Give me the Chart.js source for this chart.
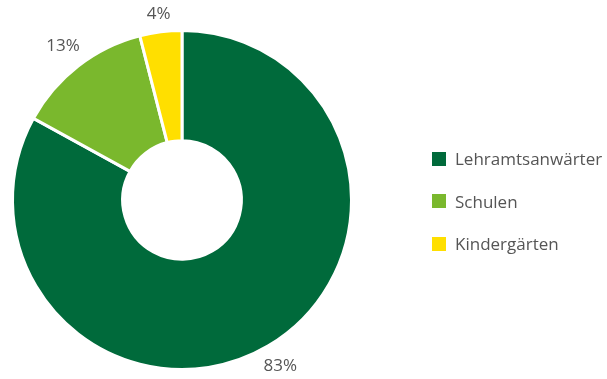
<!DOCTYPE html>
<html lang="de">
<head>
    <meta charset="UTF-8">
    <title>Verteilung</title>
    <script src="https://cdn.jsdelivr.net/npm/chart.js"></script>
    <style>
        body { margin: 0; padding: 0; background: #fff; font-family: "Open Sans", sans-serif; }
        .wrap { position: relative; width: 607px; height: 379px; }
        #legend { position: absolute; left: 432px; top: 148px; list-style: none; margin: 0; padding: 0; }
        #legend li { display: flex; align-items: center; height: 21px; margin-bottom: 21.5px; font-size: 17px; color: #555; }
        #legend span.box { width: 14px; height: 14px; margin-right: 9px; display: inline-block; }
    </style>
</head>
<body>
    <div class="wrap">
        <canvas id="chart" width="607" height="379"></canvas>
        <ul id="legend"></ul>
    </div>

    <script>
        const categories = ['Lehramtsanwärter', 'Schulen', 'Kindergärten'];
        const shares = [83, 13, 4];
        const colors = ['#006a3b', '#7ab82d', '#ffdf00'];

        // percentage labels outside each segment, label box kept clear of the ring
        const outsideLabels = {
            id: 'outsideLabels',
            afterDatasetsDraw(chart) {
                const ctx = chart.ctx;
                const meta = chart.getDatasetMeta(0);
                ctx.save();
                ctx.font = '17px "Open Sans", sans-serif';
                ctx.fillStyle = '#555';
                ctx.textAlign = 'center';
                ctx.textBaseline = 'middle';
                meta.data.forEach((arc, i) => {
                    const p = arc.getProps(['x', 'y', 'startAngle', 'endAngle', 'outerRadius'], true);
                    const text = shares[i] + '%';
                    const mid = (p.startAngle + p.endAngle) / 2;
                    const dx = Math.cos(mid), dy = Math.sin(mid);
                    const w = ctx.measureText(text).width, h = 16;
                    const r = p.outerRadius + 8 + Math.abs(dx) * w / 2 + Math.abs(dy) * h / 2;
                    ctx.fillText(text, p.x + dx * r, p.y + dy * r);
                });
                ctx.restore();
            }
        };

        const chart = new Chart(document.getElementById('chart'), {
            type: 'doughnut',
            data: {
                labels: categories,
                datasets: [{
                    data: shares,
                    backgroundColor: colors,
                    borderColor: '#fff',
                    borderWidth: 3
                }]
            },
            options: {
                responsive: false,
                animation: false,
                cutout: '35%',
                layout: { padding: { left: 11, right: 254, top: 29, bottom: 8 } },
                plugins: {
                    legend: { display: false },
                    tooltip: { enabled: false }
                }
            },
            plugins: [outsideLabels]
        });

        // legend built from the same arrays
        const legend = document.getElementById('legend');
        categories.forEach((name, i) => {
            const li = document.createElement('li');
            li.innerHTML = '<span class="box" style="background:' + colors[i] + '"></span>' + name;
            legend.appendChild(li);
        });
    </script>
</body>
</html>
